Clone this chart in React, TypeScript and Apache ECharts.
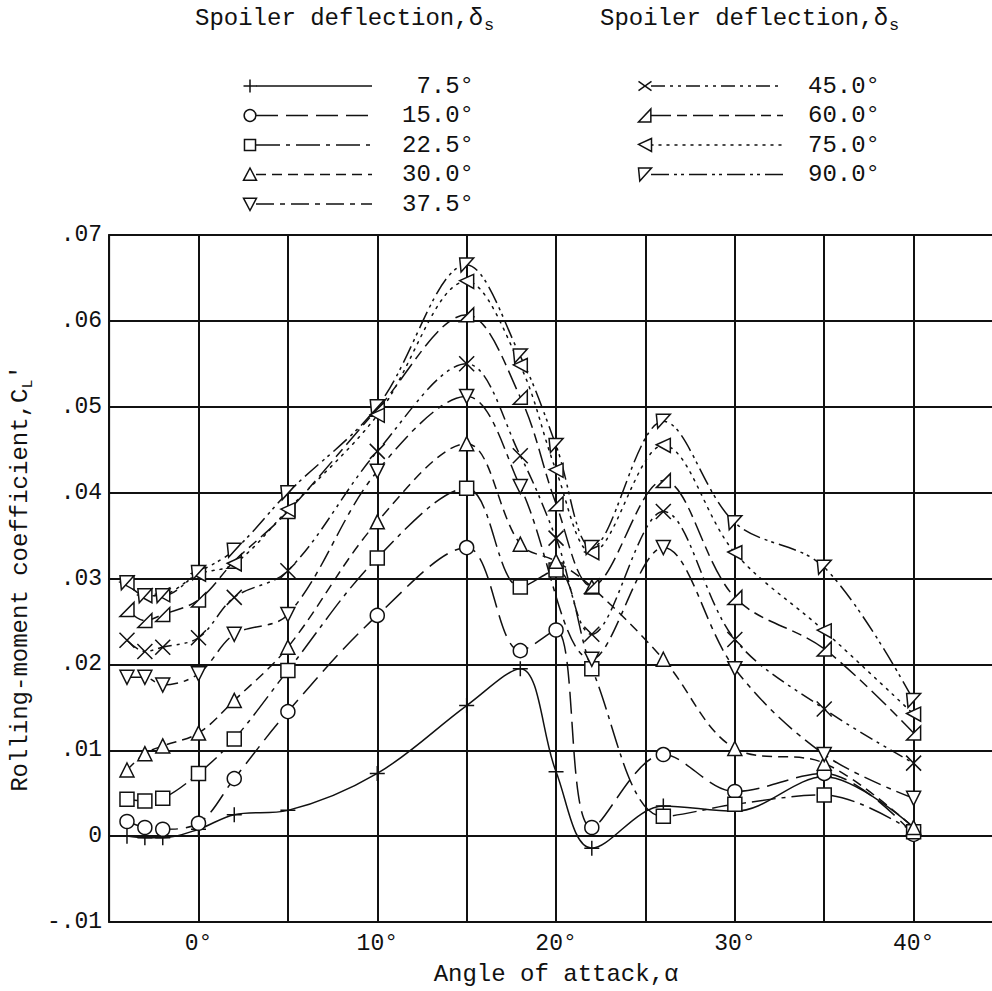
import React, { useEffect, useRef } from "react";
import * as echarts from "echarts";

// ---------------- data ----------------
const alpha = [-4, -3, -2, 0, 2, 5, 10, 15, 18, 20, 22, 26, 30, 35, 40];

const seriesNames = ["7.5°", "15.0°", "22.5°", "30.0°", "37.5°", "45.0°", "60.0°", "75.0°", "90.0°"];

const s7_5 = [0.0, -0.0002, -0.0002, 0.0008, 0.0025, 0.003, 0.0073, 0.0152, 0.0195, 0.0075, -0.0014, 0.0035, 0.0029, 0.0069, 0.001];
const s15 = [0.0017, 0.001, 0.0008, 0.0015, 0.0067, 0.0145, 0.0257, 0.0336, 0.0216, 0.024, 0.001, 0.0095, 0.0052, 0.0073, 0.0002];
const s22_5 = [0.0043, 0.0041, 0.0044, 0.0073, 0.0113, 0.0193, 0.0324, 0.0405, 0.029, 0.031, 0.0195, 0.0023, 0.0037, 0.0048, 0.0005];
const s30 = [0.0077, 0.0096, 0.0105, 0.012, 0.0158, 0.022, 0.0366, 0.0457, 0.034, 0.032, 0.029, 0.0206, 0.0102, 0.0085, 0.001];
const s37_5 = [0.0185, 0.0185, 0.0176, 0.0189, 0.0235, 0.0258, 0.0425, 0.0512, 0.0407, null, 0.0206, 0.0336, 0.0195, 0.0095, 0.0044];
const s45 = [0.0228, 0.0215, 0.022, 0.0231, 0.0278, 0.0309, 0.0448, 0.055, 0.0443, 0.0347, 0.0235, 0.0378, 0.0229, 0.0148, 0.0085];
const s60 = [0.0264, 0.0251, 0.0258, 0.0275, 0.032, 0.0378, 0.0497, 0.0607, 0.0511, 0.0387, 0.0291, 0.0414, 0.0278, 0.0218, 0.012];
const s75 = [0.0295, 0.028, 0.0281, 0.0305, 0.0317, 0.038, 0.049, 0.0646, 0.0548, 0.0426, 0.033, 0.0455, 0.033, 0.0239, 0.0142];
const s90 = [0.0295, 0.028, 0.028, 0.0307, 0.0333, 0.04, 0.05, 0.0665, 0.0559, 0.0455, 0.0336, 0.0483, 0.0365, 0.0313, 0.0158];

const seriesValues = [s7_5, s15, s22_5, s30, s37_5, s45, s60, s75, s90];

const yTickLabels = ["-.01", "0", ".01", ".02", ".03", ".04", ".05", ".06", ".07"];
const xTickValues = [0, 10, 20, 30, 40];
const xTickLabels = ["0°", "10°", "20°", "30°", "40°"];

const legendTitle = "Spoiler deflection,δ";
const legendTitleSub = "s";
const xTitle = "Angle of attack,α";

// ---------------- styles ----------------
const FONT = "'Liberation Mono', 'DejaVu Sans Mono', monospace";
const INK = "#111";

type Sym = "plus" | "circle" | "rect" | "triUp" | "triDown" | "cross" | "tri60" | "tri75" | "tri90";
const symbols: Sym[] = ["plus", "circle", "rect", "triUp", "triDown", "cross", "tri60", "tri75", "tri90"];
const dashes: (number[] | "solid")[] = [
  "solid",
  [22, 8],
  [24, 6, 4, 6],
  [10, 6],
  [18, 6, 5, 6],
  [14, 5, 3, 5, 3, 5],
  [20, 6, 10, 6],
  [2, 6],
  [18, 5, 3, 4, 3, 5],
];

const polys: Record<string, number[][]> = {
  triUp: [[0, -0.5], [0.5, 0.45], [-0.5, 0.45]],
  triDown: [[-0.5, -0.45], [0.5, -0.45], [0, 0.5]],
  tri60: [[0.45, -0.5], [0.45, 0.5], [-0.5, 0.5]],
  tri75: [[-0.5, -0.05], [0.5, -0.5], [0.5, 0.5]],
  tri90: [[-0.5, -0.5], [0.5, -0.5], [-0.4, 0.5]],
};

function symbolPath(s: Sym): string {
  if (s === "plus") return "path://M5,0L5,10M0,5L10,5";
  if (s === "cross") return "path://M0,0L10,10M10,0L0,10";
  if (s === "circle") return "circle";
  if (s === "rect") return "rect";
  const p = polys[s];
  return "path://" + p.map((q, i) => (i ? "L" : "M") + ((q[0] + 0.5) * 10).toFixed(2) + "," + ((q[1] + 0.5) * 10).toFixed(2)).join("") + "Z";
}

function legendSymbol(s: Sym, cx: number, cy: number, size: number): any[] {
  const st = { stroke: INK, lineWidth: 1.5, fill: "#fff" };
  const h = size / 2;
  if (s === "plus")
    return [
      { type: "line", shape: { x1: cx - h, y1: cy, x2: cx + h, y2: cy }, style: st },
      { type: "line", shape: { x1: cx, y1: cy - h, x2: cx, y2: cy + h }, style: st },
    ];
  if (s === "cross")
    return [
      { type: "line", shape: { x1: cx - h, y1: cy - h * 0.7, x2: cx + h, y2: cy + h * 0.7 }, style: st },
      { type: "line", shape: { x1: cx - h, y1: cy + h * 0.7, x2: cx + h, y2: cy - h * 0.7 }, style: st },
    ];
  if (s === "circle") return [{ type: "circle", shape: { cx, cy, r: h * 0.9 }, style: st }];
  if (s === "rect") return [{ type: "rect", shape: { x: cx - h * 0.85, y: cy - h * 0.85, width: h * 1.7, height: h * 1.7 }, style: st }];
  return [{ type: "polygon", shape: { points: polys[s].map((q) => [cx + q[0] * size, cy + q[1] * size]) }, style: st }];
}

export default function App() {
  const ref = useRef<HTMLDivElement>(null);

  useEffect(() => {
    if (!ref.current) return;
    const chart = echarts.init(ref.current, undefined, { renderer: "svg" });

    const series: any[] = seriesValues.map((vals, k) => ({
      name: seriesNames[k],
      type: "line",
      smooth: 0.35,
      connectNulls: true,
      data: alpha.map((a, i) => [a, vals[i]]).filter((d) => d[1] !== null),
      symbol: symbolPath(symbols[k]),
      symbolSize: symbols[k] === "plus" || symbols[k] === "cross" ? 15 : 14,
      lineStyle: {
        color: INK,
        width: 1.5,
        type: dashes[k],
        cap: symbols[k] === "tri75" ? "round" : "butt",
      },
      itemStyle: {
        color: symbols[k] === "plus" || symbols[k] === "cross" ? "rgba(0,0,0,0)" : "#fff",
        borderColor: INK,
        borderWidth: 1.5,
      },
      z: 3,
    }));

    // legend drawn as graphic
    const graphic: any[] = [];
    const cols = [
      { x: 195, sym: 250, lineEnd: 372, labelRight: 474, items: [0, 1, 2, 3, 4] },
      { x: 600, sym: 645, lineEnd: 783, labelRight: 880, items: [5, 6, 7, 8] },
    ];
    cols.forEach((c) => {
      graphic.push({
        type: "text",
        left: c.x,
        top: 6,
        style: { text: legendTitle, font: `24px ${FONT}`, fill: INK },
      });
      graphic.push({
        type: "text",
        left: c.x + 289,
        top: 17,
        style: { text: legendTitleSub, font: `17px ${FONT}`, fill: INK },
      });
      c.items.forEach((k, r) => {
        const y = 86 + r * 29.5;
        const d = dashes[k];
        graphic.push({
          type: "line",
          shape: { x1: c.sym + 6, y1: y, x2: c.lineEnd, y2: y },
          style: { stroke: INK, lineWidth: 1.5, lineDash: d === "solid" ? null : d, lineCap: symbols[k] === "tri75" ? "round" : "butt" },
        });
        legendSymbol(symbols[k], c.sym, y, 13).forEach((e) => graphic.push(e));
        graphic.push({
          type: "text",
          x: c.labelRight,
          y: y,
          style: { text: seriesNames[k], font: `24px ${FONT}`, fill: INK, align: "right", verticalAlign: "middle" },
        });
      });
    });

    chart.setOption({
      animation: false,
      backgroundColor: "#fff",
      grid: { left: 106, top: 235, right: 7, bottom: 66, show: true, borderColor: INK, borderWidth: 2 },
      xAxis: {
        type: "value",
        min: -5,
        max: 45,
        interval: 5,
        name: xTitle,
        nameLocation: "middle",
        nameGap: 40,
        nameTextStyle: { fontFamily: FONT, fontSize: 24, color: INK },
        axisLine: { show: true, lineStyle: { color: INK, width: 2 } },
        axisTick: { show: false },
        splitLine: { show: true, lineStyle: { color: INK, width: 2 } },
        axisLabel: {
          margin: 10,
          fontFamily: FONT,
          fontSize: 23,
          color: INK,
          formatter: (v: number) => {
            const i = xTickValues.indexOf(Math.round(v));
            return i >= 0 ? xTickLabels[i] : "";
          },
        },
      },
      yAxis: {
        type: "value",
        min: -0.01,
        max: 0.07,
        interval: 0.01,
        name: "{m|Rolling-moment coefficient,C}{sub|L}{m|'}",
        nameLocation: "middle",
        nameGap: 72,
        nameTextStyle: {
          fontFamily: FONT,
          fontSize: 24,
          color: INK,
          rich: {
            m: { fontFamily: FONT, fontSize: 24, color: INK, verticalAlign: "top", lineHeight: 26 },
            sub: { fontFamily: FONT, fontSize: 15, color: INK, verticalAlign: "top", lineHeight: 15, padding: [13, 0, 0, 0] },
          },
        },
        axisLine: { show: true, lineStyle: { color: INK, width: 2 } },
        axisTick: { show: false },
        splitLine: { show: true, lineStyle: { color: INK, width: 2 } },
        axisLabel: {
          margin: 7,
          fontFamily: FONT,
          fontSize: 23,
          color: INK,
          formatter: (v: number) => yTickLabels[Math.round(v * 100) + 1] ?? "",
        },
      },
      series,
      graphic,
    });

    return () => chart.dispose();
  }, []);

  return (
    <div
      ref={ref}
      style={{ position: "fixed", left: 0, top: 0, width: 1010, height: 991, background: "#fff" }}
    />
  );
}
